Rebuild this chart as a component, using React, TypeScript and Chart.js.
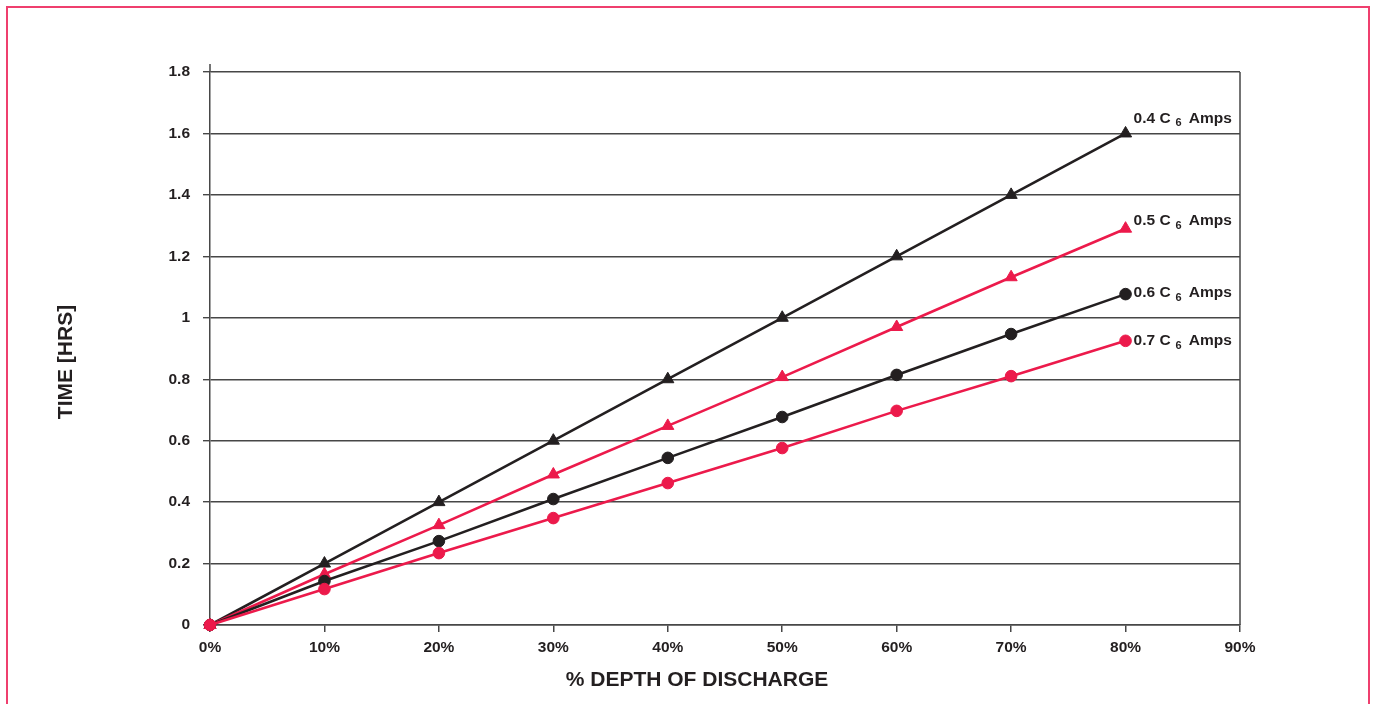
import React, { useEffect, useRef } from "react";
import { Chart, registerables } from "chart.js";

Chart.register(...registerables);

const depthPct = [0, 10, 20, 30, 40, 50, 60, 70, 80];
const amps04 = [0, 0.2, 0.4, 0.6, 0.8, 1.0, 1.2, 1.4, 1.6];
const amps05 = [0, 0.165, 0.325, 0.49, 0.648, 0.807, 0.97, 1.132, 1.29];
const amps06 = [0, 0.143, 0.273, 0.41, 0.544, 0.677, 0.814, 0.947, 1.077];
const amps07 = [0, 0.117, 0.234, 0.348, 0.462, 0.576, 0.697, 0.81, 0.925];
const seriesRates = ["0.4", "0.5", "0.6", "0.7"];
const yTicks = [0, 0.2, 0.4, 0.6, 0.8, 1, 1.2, 1.4, 1.6, 1.8];
const xTicks = [0, 10, 20, 30, 40, 50, 60, 70, 80, 90];

const BLACK = "#231f20";
const RED = "#ec1a4b";
const GRID = "#474747";
const FONT = "'Liberation Sans', Arial, sans-serif";

const labelOffsets = [-15, -8, -1, 0];

export default function App() {
  const ref = useRef<HTMLCanvasElement | null>(null);

  useEffect(() => {
    document.body.style.margin = "0";
    const canvas = ref.current;
    if (!canvas) return;

    const mk = (vals: number[]) => depthPct.map((x, i) => ({ x, y: vals[i] }));
    const allSeries = [amps04, amps05, amps06, amps07];
    const colors = [BLACK, RED, BLACK, RED];
    const styles = ["triangle", "triangle", "circle", "circle"];

    const decor = {
      id: "decor",
      beforeDraw(chart: any) {
        const ctx = chart.ctx;
        ctx.save();
        ctx.fillStyle = "#ffffff";
        ctx.fillRect(0, 0, chart.width, chart.height);
        ctx.strokeStyle = "#ef3f6e";
        ctx.lineWidth = 2;
        ctx.strokeRect(7, 7, 1362, 740);
        ctx.restore();
      },
      afterDatasetsDraw(chart: any) {
        const ctx = chart.ctx;
        const a = chart.chartArea;
        ctx.save();
        ctx.strokeStyle = GRID;
        ctx.lineWidth = 1.5;
        ctx.beginPath();
        ctx.moveTo(a.right, a.top);
        ctx.lineTo(a.right, a.bottom);
        ctx.moveTo(a.left, a.top - 8);
        ctx.lineTo(a.left, a.top);
        ctx.stroke();

        chart.data.datasets.forEach((ds: any, i: number) => {
          const meta = chart.getDatasetMeta(i);
          const last = meta.data[meta.data.length - 1];
          const x = last.x + 8;
          const y = last.y + labelOffsets[i];
          ctx.fillStyle = BLACK;
          ctx.textBaseline = "middle";
          ctx.textAlign = "left";
          ctx.font = `bold 15.5px ${FONT}`;
          const t1 = `${seriesRates[i]} C`;
          ctx.fillText(t1, x, y);
          let cx = x + ctx.measureText(t1).width + 5;
          ctx.font = `bold 11px ${FONT}`;
          ctx.fillText("6", cx, y + 5);
          cx += ctx.measureText("6").width + 7;
          ctx.font = `bold 15.5px ${FONT}`;
          ctx.fillText("Amps", cx, y);
        });

        ctx.fillStyle = BLACK;
        ctx.font = `bold 21px ${FONT}`;
        ctx.textAlign = "center";
        ctx.textBaseline = "middle";
        ctx.fillText("% DEPTH OF DISCHARGE", 697, 680);
        ctx.translate(66, 362);
        ctx.rotate(-Math.PI / 2);
        ctx.font = `bold 21px ${FONT}`;
        ctx.fillText("TIME [HRS]", 0, 0);
        ctx.restore();
      },
    };

    const chart = new Chart(canvas, {
      type: "line",
      data: {
        datasets: allSeries.map((vals, i) => ({
          label: `${seriesRates[i]} C6 Amps`,
          data: mk(vals),
          order: 3 - i,
          borderColor: colors[i],
          backgroundColor: colors[i],
          pointBackgroundColor: colors[i],
          pointBorderColor: colors[i],
          pointStyle: styles[i] as any,
          pointRadius: styles[i] === "triangle" ? 7 : 5.8,
          pointBorderWidth: 1,
          borderWidth: 2.6,
          tension: 0,
          clip: false as any,
        })),
      },
      options: {
        animation: false,
        responsive: false,
        maintainAspectRatio: false,
        layout: { padding: { top: 72, right: 135, left: 0, bottom: 0 } },
        plugins: {
          legend: { display: false },
          tooltip: { enabled: false },
        },
        scales: {
          x: {
            type: "linear",
            min: 0,
            max: 90,
            afterBuildTicks: (axis: any) => {
              axis.ticks = xTicks.map((v) => ({ value: v }));
            },
            afterFit: (axis: any) => {
              axis.height = 704 - 625;
            },
            ticks: {
              color: BLACK,
              font: { family: FONT, size: 15.5, weight: "bold" },
              padding: 6,
              maxRotation: 0,
              callback: (v: any) => `${v}%`,
            },
            grid: {
              drawOnChartArea: false,
              drawTicks: true,
              tickLength: 7,
              color: GRID,
              lineWidth: 1.5,
            },
            border: { display: true, color: GRID, width: 1.5 },
          },
          y: {
            type: "linear",
            min: 0,
            max: 1.8,
            afterBuildTicks: (axis: any) => {
              axis.ticks = yTicks.map((v) => ({ value: v }));
            },
            afterFit: (axis: any) => {
              axis.width = 210;
            },
            ticks: {
              color: BLACK,
              font: { family: FONT, size: 15.5, weight: "bold" },
              padding: 13,
              callback: (v: any) => `${Math.round(v * 10) / 10}`,
            },
            grid: {
              drawOnChartArea: true,
              drawTicks: true,
              tickLength: 7,
              color: GRID,
              lineWidth: 1.4,
            },
            border: { display: true, color: GRID, width: 1.5 },
          },
        },
      },
      plugins: [decor],
    });

    return () => chart.destroy();
  }, []);

  return (
    <div style={{ position: "absolute", left: 0, top: 0, width: 1375, height: 704 }}>
      <canvas ref={ref} width={1375} height={704} style={{ display: "block", width: 1375, height: 704 }} />
    </div>
  );
}
